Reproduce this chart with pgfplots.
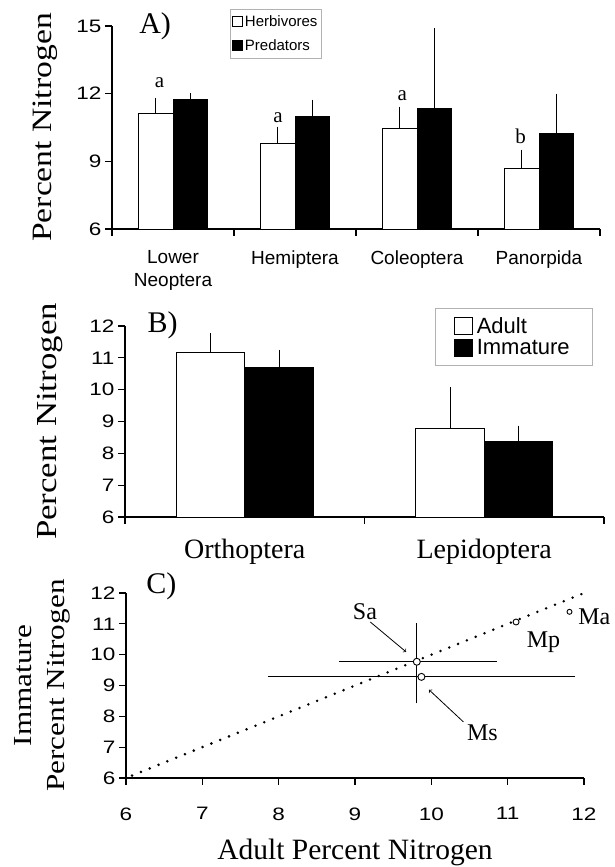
\documentclass[border=0pt]{standalone}
\usepackage{fontspec}
\setmainfont{Liberation Serif}
\newfontfamily\sansf{Liberation Sans}
\newfontfamily\sanst{Liberation Sans}[FakeStretch=1.25]
\newfontfamily\serifst{Liberation Serif}[FakeStretch=1.2]
\usepackage{pgfplots}
\pgfplotsset{compat=1.18}
\pgfplotsset{
  common/.style={
    scale only axis,
    axis x line*=bottom, axis y line*=left,
    axis line style={line width=1.5pt},
    tick align=outside,
    major tick length=7pt, minor tick length=7pt,
    tick style={line width=1.2pt, black},
    /pgf/number format/assume math mode=true,
    yticklabel style={font=\sanst\fontsize{18}{18}\selectfont},
    clip mode=individual,
  }
}
\begin{document}
\begin{tikzpicture}[x=1pt,y=1pt]
\useasboundingbox (0,0) rectangle (615,867);
% ---------------- Panel A
\begin{axis}[common,
  at={(112pt,638pt)}, anchor=south west,
  width=488pt, height=203pt,
  xmin=-0.5, xmax=3.5, ymin=6, ymax=15,
  ytick={6,9,12,15},
  xtick={0,1,2,3},
  xticklabels={{Lower\\Neoptera},Hemiptera,Coleoptera,Panorpida},
  xticklabel style={align=center, yshift=-11pt, font=\sansf\fontsize{19}{23}\selectfont},
  minor xtick={-0.5,0.5,1.5,2.5,3.5},
  major x tick style={draw=none},
  every axis y label/.style={at={(axis description cs:-0.123,0.5)}, rotate=90, anchor=base, font=\serifst\fontsize{28}{28}\selectfont},
  ylabel={Percent Nitrogen},
  ybar, bar width=0.283,
  legend image code/.code={\draw[#1, line width=0.6pt] (0pt,-5pt) rectangle (10pt,5pt);},
  legend style={at={(0.242,1.084)}, anchor=north west, draw=gray!60, line width=0.5pt,
    font=\sansf\fontsize{15}{15}\selectfont, inner xsep=2pt, inner ysep=4pt, row sep=8pt},
  legend cell align=left,
]
\addplot[bar shift=-0.1415, fill=white, draw=black, line width=0.6pt,
  error bars/.cd, y dir=plus, y explicit,
  error bar style={line width=0.9pt, black}, error mark options={line width=0.9pt, mark size=3.5pt, black}]
  coordinates {(0,11.13) +- (0,0.53) (1,9.80) +- (0,0.58) (2,10.47) +- (0,0.80) (3,8.70) +- (0,0.66)};
\addlegendentry{Herbivores}
\addplot[bar shift=0.1415, fill=black, draw=black, line width=0.6pt,
  error bars/.cd, y dir=plus, y explicit,
  error bar style={line width=0.9pt, black}, error mark options={line width=0.9pt, mark size=3.5pt, black}]
  coordinates {(0,11.75) +- (0,0.13) (1,11.00) +- (0,0.58) (2,11.35) +- (0,3.41) (3,10.25) +- (0,1.59)};
\addlegendentry{Predators}
\node[anchor=base west, font=\fontsize{30}{30}\selectfont] at (axis cs:-0.305,14.67) {A)};
\node[anchor=base, font=\fontsize{21}{21}\selectfont] at (axis cs:-0.11,12.28) {a};
\node[anchor=base, font=\fontsize{21}{21}\selectfont] at (axis cs:0.86,10.73) {a};
\node[anchor=base, font=\fontsize{21}{21}\selectfont] at (axis cs:1.88,11.71) {a};
\node[anchor=base, font=\fontsize{21}{21}\selectfont] at (axis cs:2.85,9.81) {b};
\end{axis}
% ---------------- Panel B
\begin{axis}[common,
  at={(125pt,350pt)}, anchor=south west,
  width=479pt, height=191pt,
  xmin=-0.5, xmax=1.5, ymin=6, ymax=12,
  ytick={6,7,8,9,10,11,12},
  xtick={0,1},
  xticklabels={Orthoptera,Lepidoptera},
  xticklabel style={yshift=-12pt, font=\fontsize{28}{28}\selectfont},
  minor xtick={-0.5,0.5,1.5},
  major x tick style={draw=none},
  every axis y label/.style={at={(axis description cs:-0.144,0.5)}, rotate=90, anchor=base, font=\serifst\fontsize{29}{29}\selectfont},
  ylabel={Percent Nitrogen},
  ybar, bar width=0.286,
  legend image code/.code={\draw[#1, line width=0.6pt] (0pt,-8.5pt) rectangle (18pt,8.5pt);},
  legend style={at={(0.647,1.094)}, anchor=north west, draw=gray!60, line width=0.5pt,
    font=\sansf\fontsize{22}{22}\selectfont, inner xsep=19pt, inner ysep=7pt, row sep=1pt,
    nodes={inner xsep=4pt}},
  legend cell align=left,
]
\addplot[bar shift=-0.143, fill=white, draw=black, line width=0.6pt,
  error bars/.cd, y dir=plus, y explicit,
  error bar style={line width=0.9pt, black}, error mark options={line width=0.9pt, mark size=3.5pt, black}]
  coordinates {(0,11.17) +- (0,0.50) (1,8.79) +- (0,1.19)};
\addlegendentry{Adult}
\addplot[bar shift=0.143, fill=black, draw=black, line width=0.6pt,
  error bars/.cd, y dir=plus, y explicit,
  error bar style={line width=0.9pt, black}, error mark options={line width=0.9pt, mark size=3.5pt, black}]
  coordinates {(0,10.70) +- (0,0.44) (1,8.38) +- (0,0.38)};
\addlegendentry{Immature}
\node[anchor=base west, font=\fontsize{30}{30}\selectfont] at (axis cs:-0.42,11.8) {B)};
\end{axis}
% ---------------- Panel C
\begin{axis}[common,
  at={(126pt,89pt)}, anchor=south west,
  width=458pt, height=185pt,
  xmin=6, xmax=12, ymin=6, ymax=12,
  xtick={6,7,...,12}, ytick={6,7,...,12},
  xticklabel style={yshift=-19pt, font=\sanst\fontsize{18}{18}\selectfont},
  every axis y label/.style={at={(axis description cs:-0.182,0.5)}, rotate=90, anchor=center, align=center, font=\serifst\fontsize{26}{33}\selectfont},
  ylabel={Immature\\Percent Nitrogen},
  every axis x label/.style={at={(axis description cs:0.5,-0.438)}, anchor=base, font=\fontsize{29.5}{29.5}\selectfont},
  xlabel={Adult Percent Nitrogen},
]
\addplot[black, line width=2.8pt, dash pattern=on 0pt off 9.5pt, line cap=round] coordinates {(6.08,6.08) (12,12)};
\addplot[only marks, mark=*, mark size=3.5pt, mark options={fill=white, draw=black, line width=0.9pt},
  error bars/.cd, x dir=both, x explicit, y dir=both, y explicit,
  error bar style={line width=0.9pt, black}, error mark options={line width=0.9pt, mark size=3.5pt, black}]
  coordinates {(9.81,9.77) += (1.0,1.13) -= (0.97,1.24)};
\addplot[only marks, mark=*, mark size=3.5pt, mark options={fill=white, draw=black, line width=0.9pt},
  error bars/.cd, x dir=both, x explicit,
  error bar style={line width=0.9pt, black}, error mark options={line width=0.9pt, mark size=3.5pt, black}]
  coordinates {(9.87,9.28) +- (1.965,0)};
\addplot[only marks, mark=*, mark size=3pt, mark options={fill=white, draw=black, line width=0.9pt}]
  coordinates {(11.11,11.06)};
\addplot[only marks, mark=*, mark size=2.5pt, mark options={fill=white, draw=black, line width=0.9pt}]
  coordinates {(11.81,11.39)};
\node[anchor=base west, font=\fontsize{30}{30}\selectfont] at (axis cs:6.22,12.0) {C)};
\node[font=\fontsize{24}{24}\selectfont] at (axis cs:9.13,11.39) {Sa};
\node[font=\fontsize{24}{24}\selectfont] at (axis cs:10.67,7.46) {Ms};
\node[font=\fontsize{24}{24}\selectfont] at (axis cs:11.47,10.42) {Mp};
\node[anchor=west, font=\fontsize{24}{24}\selectfont] at (axis cs:11.88,11.23) {Ma};
\draw[->, line width=0.8pt] (axis cs:9.20,11.06) -- (axis cs:9.67,10.09);
\draw[->, line width=0.8pt] (axis cs:10.42,7.82) -- (axis cs:9.97,8.86);
\end{axis}
\end{tikzpicture}
\end{document}
